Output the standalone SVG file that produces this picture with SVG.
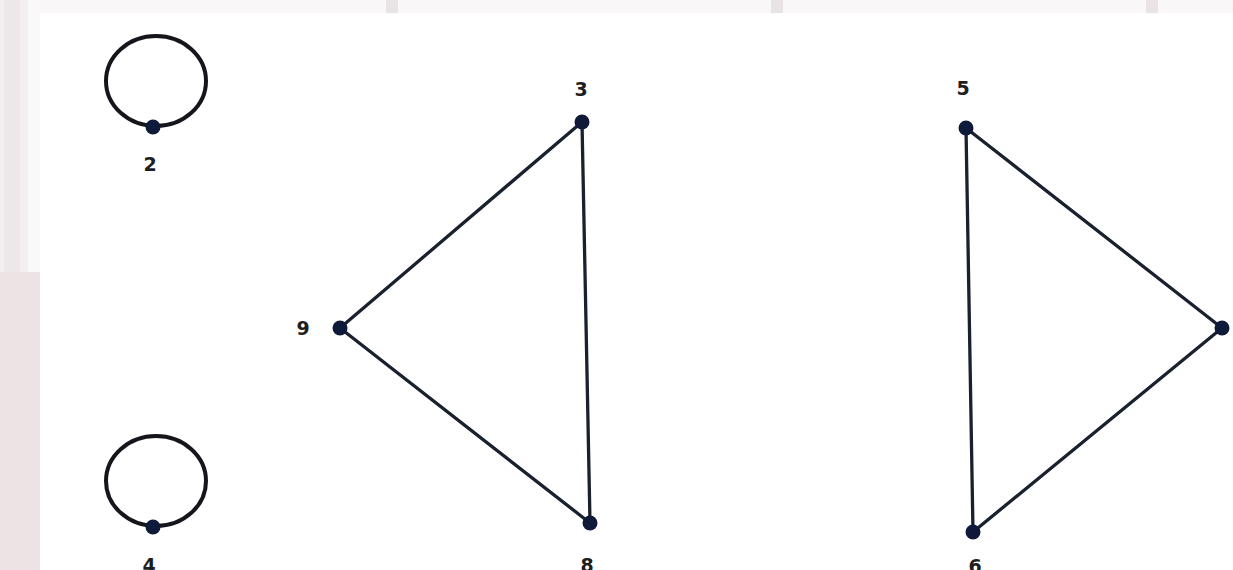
<svg xmlns="http://www.w3.org/2000/svg" width="1233" height="570" viewBox="0 0 1233 570">
  <style>
    .edge { stroke: #19202e; stroke-width: 3.3; stroke-linecap: round; fill: none; }
    .loop { stroke: #14161c; stroke-width: 4; fill: none; }
    .dot { fill: #0f1a3a; }
    .lbl { font-family: "DejaVu Sans", "Liberation Sans", sans-serif; font-weight: bold; font-size: 19px; fill: #1e1e1e; text-anchor: middle; }
  </style>
  <rect x="0" y="0" width="1233" height="570" fill="#ffffff"/>
  <g id="background">
    <rect x="0" y="0" width="1233" height="13" fill="#faf7f8"/>
    <rect x="386" y="0" width="12" height="13" fill="#e9e3e5"/>
    <rect x="771" y="0" width="12" height="13" fill="#e9e3e5"/>
    <rect x="1146" y="0" width="12" height="13" fill="#e9e3e5"/>
    <rect x="0" y="0" width="28" height="272" fill="#f3eef0"/>
    <rect x="4" y="0" width="16" height="272" fill="#eee7e9"/>
    <rect x="28" y="0" width="12" height="272" fill="#faf8f9"/>
    <rect x="0" y="272" width="40" height="298" fill="#ece3e5"/>
  </g>
  <g id="connectors">
    <line class="edge" x1="582" y1="122" x2="340" y2="328"/>
    <line class="edge" x1="340" y1="328" x2="590" y2="523"/>
    <line class="edge" x1="582" y1="122" x2="590" y2="523"/>
    <line class="edge" x1="966" y1="128" x2="973" y2="532"/>
    <line class="edge" x1="966" y1="128" x2="1222" y2="328"/>
    <line class="edge" x1="973" y1="532" x2="1222" y2="328"/>
  </g>
  <g id="node-2">
    <ellipse class="loop" cx="156" cy="81" rx="50" ry="45"/>
    <circle class="dot" cx="153" cy="127" r="7.5"/>
    <text class="lbl" x="150" y="171">2</text>
  </g>
  <g id="node-4">
    <ellipse class="loop" cx="156" cy="481" rx="50" ry="45"/>
    <circle class="dot" cx="153" cy="527" r="7.5"/>
    <text class="lbl" x="149" y="572">4</text>
  </g>
  <g id="node-9">
    <circle class="dot" cx="340" cy="328" r="7.5"/>
    <text class="lbl" x="303" y="335">9</text>
  </g>
  <g id="node-3">
    <circle class="dot" cx="582" cy="122" r="7.5"/>
    <text class="lbl" x="581" y="96">3</text>
  </g>
  <g id="node-8">
    <circle class="dot" cx="590" cy="523" r="7.5"/>
    <text class="lbl" x="587" y="572">8</text>
  </g>
  <g id="node-5">
    <circle class="dot" cx="966" cy="128" r="7.5"/>
    <text class="lbl" x="963" y="95">5</text>
  </g>
  <g id="node-6">
    <circle class="dot" cx="973" cy="532" r="7.5"/>
    <text class="lbl" x="975" y="573">6</text>
  </g>
  <g id="node-7">
    <circle class="dot" cx="1222" cy="328" r="7.5"/>
  </g>
</svg>
